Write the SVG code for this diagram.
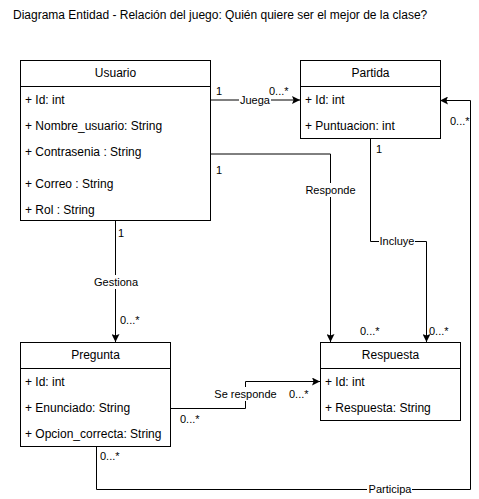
<svg xmlns="http://www.w3.org/2000/svg" width="479" height="499" viewBox="0 0 479 499">
<style>
text{font-family:"Liberation Sans",Arial,sans-serif;fill:#000}
.t{font-size:12px}
.h{font-size:12px;text-anchor:middle}
.a{font-size:12px}
.l{font-size:11px;text-anchor:middle}
.m{font-size:11px}
.box{fill:#fff;stroke:#000;stroke-width:1}
.e{fill:none;stroke:#000;stroke-width:1}
.bg{fill:#fff}
</style>
<defs>
<marker id="arr" viewBox="0 0 10 10" refX="10" refY="5" markerWidth="8" markerHeight="8" orient="auto" markerUnits="userSpaceOnUse">
<path d="M0,0 L10,5 L0,10 L2,5 z" fill="#000"/>
</marker>
</defs>
<rect width="479" height="499" fill="#fff"/>
<text class="t" x="13" y="19">Diagrama Entidad - Relación del juego: Quién quiere ser el mejor de la clase?</text>

<g id="connectors">
<path class="e" d="M210,100 H300" marker-end="url(#arr)"/>
<path class="e" d="M210,154 H330.5 V342" marker-end="url(#arr)"/>
<path class="e" d="M370.5,138 V241.5 H426.5 V342" marker-end="url(#arr)"/>
<path class="e" d="M115.5,220 V342" marker-end="url(#arr)"/>
<path class="e" d="M170,408.5 H245.5 V381.5 H320" marker-end="url(#arr)"/>
<path class="e" d="M96.5,446 V489.5 H470.5 V100.5 H440" marker-end="url(#arr)"/>
<rect class="bg" x="239" y="93" width="32" height="14"/>
<text class="l" x="255" y="104">Juega</text>
<rect class="bg" x="305" y="183" width="51" height="14"/>
<text class="l" x="330.5" y="194">Responde</text>
<rect class="bg" x="379" y="235" width="36" height="14"/>
<text class="l" x="397" y="245">Incluye</text>
<rect class="bg" x="93" y="275" width="46" height="14"/>
<text class="l" x="116" y="286">Gestiona</text>
<rect class="bg" x="213" y="387" width="65" height="14"/>
<text class="l" x="245.5" y="398">Se responde</text>
<rect class="bg" x="367" y="482" width="45" height="14"/>
<text class="l" x="390" y="493">Participa</text>
<text class="m" x="216" y="95">1</text>
<text class="m" x="269" y="95">0...*</text>
<text class="m" x="216" y="174">1</text>
<text class="m" x="360" y="335">0...*</text>
<text class="m" x="376" y="153">1</text>
<text class="m" x="429" y="335">0...*</text>
<text class="m" x="118" y="237">1</text>
<text class="m" x="120" y="324">0...*</text>
<text class="m" x="289" y="398">0...*</text>
<text class="m" x="180" y="423">0...*</text>
<text class="m" x="100" y="460">0...*</text>
<text class="m" x="450" y="125">0...*</text>
</g>

<g id="usuario">
<rect class="box" x="20.5" y="60.5" width="190" height="160"/>
<line class="e" x1="20.5" y1="86.5" x2="210.5" y2="86.5"/>
<text class="h" x="115.5" y="77">Usuario</text>
<text class="a" x="25" y="104">+ Id: int</text>
<text class="a" x="25" y="130">+ Nombre_usuario: String</text>
<text class="a" x="25" y="156">+ Contrasenia : String</text>
<text class="a" x="25" y="188">+ Correo : String</text>
<text class="a" x="25" y="214">+ Rol : String</text>
</g>

<g id="partida">
<rect class="box" x="300.5" y="60.5" width="140" height="78"/>
<line class="e" x1="300.5" y1="86.5" x2="440.5" y2="86.5"/>
<text class="h" x="370.5" y="77">Partida</text>
<text class="a" x="305" y="104">+ Id: int</text>
<text class="a" x="305" y="130">+ Puntuacion: int</text>
</g>

<g id="pregunta">
<rect class="box" x="20.5" y="342.5" width="150" height="104"/>
<line class="e" x1="20.5" y1="368.5" x2="170.5" y2="368.5"/>
<text class="h" x="95.5" y="359">Pregunta</text>
<text class="a" x="25" y="386">+ Id: int</text>
<text class="a" x="25" y="412">+ Enunciado: String</text>
<text class="a" x="25" y="438">+ Opcion_correcta: String</text>
</g>

<g id="respuesta">
<rect class="box" x="320.5" y="342.5" width="140" height="78"/>
<line class="e" x1="320.5" y1="368.5" x2="460.5" y2="368.5"/>
<text class="h" x="390.5" y="359">Respuesta</text>
<text class="a" x="325" y="386">+ Id: int</text>
<text class="a" x="325" y="412">+ Respuesta: String</text>
</g>
</svg>
